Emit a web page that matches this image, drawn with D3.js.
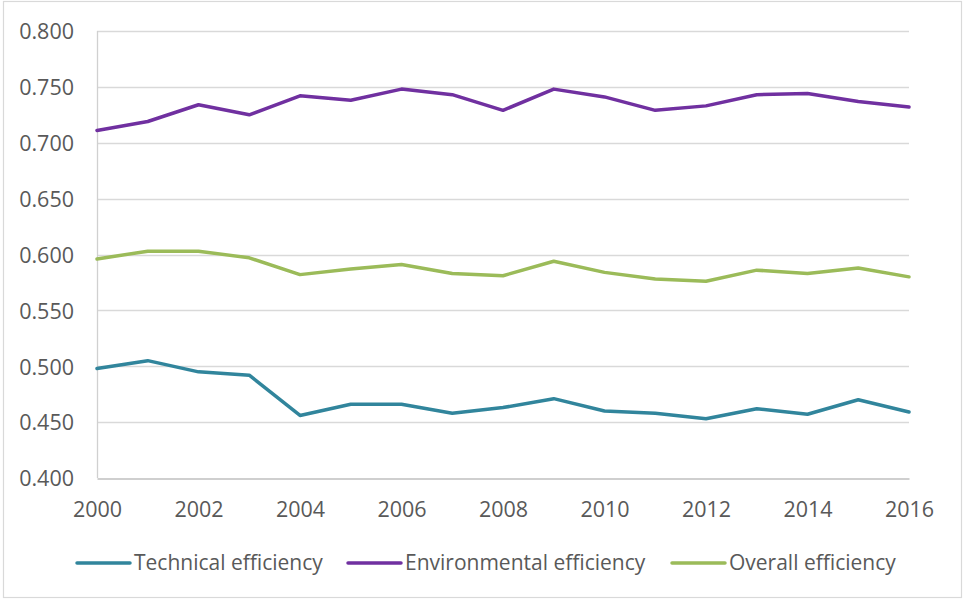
<!DOCTYPE html>
<html>
<head>
<meta charset="utf-8">
<script src="https://cdn.jsdelivr.net/npm/d3@7"></script>
<style>
  html, body { margin: 0; padding: 0; background: #fff; }
  svg { display: block; }
  text { font-family: "Open Sans", "Noto Sans", sans-serif; fill: #595959; }
</style>
</head>
<body>
<svg id="chart" width="963" height="600"></svg>
<script>
// Years on the horizontal axis
const years = d3.range(2000, 2017);

// Efficiency scores by year
const technical = [0.498, 0.505, 0.495, 0.492, 0.456, 0.466, 0.466, 0.458, 0.463, 0.471, 0.460, 0.458, 0.453, 0.462, 0.457, 0.470, 0.459];
const environmental = [0.711, 0.719, 0.734, 0.725, 0.742, 0.738, 0.748, 0.743, 0.729, 0.748, 0.741, 0.729, 0.733, 0.743, 0.744, 0.737, 0.732];
const overall = [0.596, 0.603, 0.603, 0.597, 0.582, 0.587, 0.591, 0.583, 0.581, 0.594, 0.584, 0.578, 0.576, 0.586, 0.583, 0.588, 0.580];

// Axis ticks
const yTicks = [0.400, 0.450, 0.500, 0.550, 0.600, 0.650, 0.700, 0.750, 0.800];
const xTicks = [2000, 2002, 2004, 2006, 2008, 2010, 2012, 2014, 2016];

const seriesNames = ["Technical efficiency", "Environmental efficiency", "Overall efficiency"];
const seriesColors = ["#31859C", "#7030A0", "#9BBB59"];
const seriesValues = [technical, environmental, overall];

const svg = d3.select("#chart");

// Chart frame
svg.append("rect")
  .attr("x", 3.5).attr("y", 1.5)
  .attr("width", 958).attr("height", 596)
  .attr("fill", "#fff")
  .attr("stroke", "#d9d9d9").attr("stroke-width", 1.2);

const x = d3.scaleLinear().domain([2000, 2016]).range([97, 909]);
const y = d3.scaleLinear().domain([0.4, 0.8]).range([478, 31]);

// Horizontal gridlines
svg.append("g")
  .selectAll("line")
  .data(yTicks.filter(t => t > 0.4))
  .join("line")
  .attr("x1", x(2000)).attr("x2", x(2016))
  .attr("y1", d => Math.round(y(d)) + 0.5).attr("y2", d => Math.round(y(d)) + 0.5)
  .attr("stroke", "#d9d9d9").attr("stroke-width", 1.3);

// Left axis line
svg.append("line")
  .attr("x1", x(2000) + 0.5).attr("x2", x(2000) + 0.5)
  .attr("y1", y(0.8)).attr("y2", y(0.4))
  .attr("stroke", "#d0d0d0").attr("stroke-width", 1.3);

// Y axis labels
const yAxis = d3.axisLeft(y).tickValues(yTicks).tickFormat(d3.format(".3f")).tickSize(0).tickPadding(23);
const gy = svg.append("g").attr("transform", `translate(${x(2000)},0)`).call(yAxis);
gy.select(".domain").remove();
gy.selectAll("text").attr("font-size", "21.5px").attr("fill", "#595959")
  .attr("font-family", "'Open Sans', sans-serif").attr("dy", "0.36em");

// X axis with baseline
const xAxis = d3.axisBottom(x).tickValues(xTicks).tickFormat(d3.format("d")).tickSize(0).tickPadding(23);
const gx = svg.append("g").attr("transform", `translate(0,${Math.round(y(0.4)) + 0.5})`).call(xAxis);
gx.select(".domain").attr("stroke", "#bfbfbf").attr("stroke-width", 1.3);
gx.selectAll("text").attr("font-size", "21.5px").attr("fill", "#595959")
  .attr("font-family", "'Open Sans', sans-serif");

// Series lines
const line = d3.line().x((d, i) => x(years[i])).y(d => y(d));
svg.append("g")
  .selectAll("path")
  .data(seriesValues)
  .join("path")
  .attr("d", d => line(d))
  .attr("fill", "none")
  .attr("stroke", (d, i) => seriesColors[i])
  .attr("stroke-width", 3.5)
  .attr("stroke-linejoin", "round")
  .attr("stroke-linecap", "round");

// Legend
const legendX = [77, 348, 672];
const legendY = 563;
const lg = svg.append("g")
  .selectAll("g")
  .data(seriesNames)
  .join("g")
  .attr("transform", (d, i) => `translate(${legendX[i]},${legendY})`);
lg.append("line")
  .attr("x1", 0).attr("x2", 53)
  .attr("stroke", (d, i) => seriesColors[i])
  .attr("stroke-width", 3.5)
  .attr("stroke-linecap", "round");
lg.append("text")
  .attr("x", 57).attr("dy", "0.35em")
  .attr("font-size", "21px")
  .text(d => d);
</script>
</body>
</html>
